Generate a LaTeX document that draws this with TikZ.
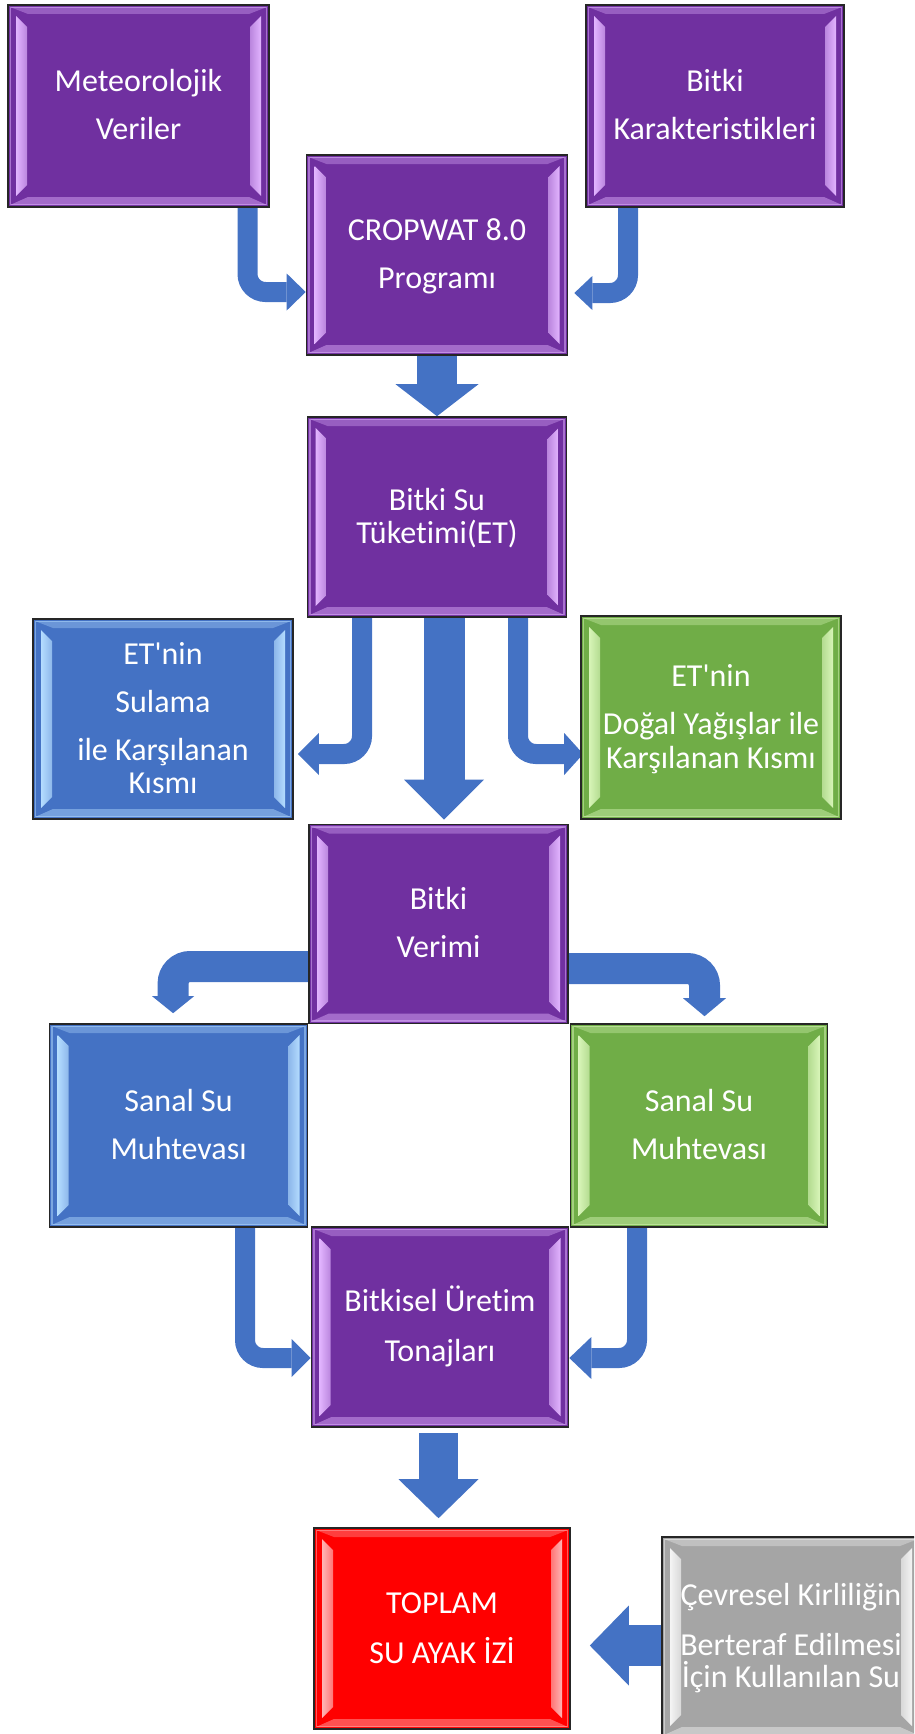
\documentclass[tikz,border=0pt]{standalone}
\usepackage{fontspec}
\setmainfont{Carlito}[Ligatures=NoCommon]
\usetikzlibrary{backgrounds}
\newcommand\boxfont{\fontsize{32}{48}\selectfont}
\definecolor{pbase}{HTML}{7030A0}\definecolor{plight}{HTML}{E2B4FF}
\definecolor{bbase}{HTML}{4472C4}\definecolor{blight}{HTML}{B4DCFF}
\definecolor{gbase}{HTML}{70AD47}\definecolor{glight}{HTML}{D8F5B8}
\definecolor{rbase}{HTML}{FF0000}\definecolor{rlight}{HTML}{FFB4B4}
\definecolor{ybase}{HTML}{A5A5A5}\definecolor{ylight}{HTML}{F4F4F4}
\definecolor{ablue}{HTML}{4472C4}
\colorlet{bvB}{pbase}\colorlet{bvL}{plight}
\tikzset{
  bev/.style={rectangle, draw=black!85, line width=1.6pt,
    text=white, inner sep=0pt, align=center, font=\boxfont,
    path picture={
      \coordinate (pNW) at (path picture bounding box.north west);
      \coordinate (pNE) at (path picture bounding box.north east);
      \coordinate (pSW) at (path picture bounding box.south west);
      \coordinate (pSE) at (path picture bounding box.south east);
      \fill[bvL, opacity=0.35] ([shift={(2,2)}]pNW) -- ([shift={(-2,2)}]pNE)
        -- ([shift={(-20,9)}]pNE) -- ([shift={(20,9)}]pNW) -- cycle;
      \fill[bvL, opacity=0.45] ([shift={(2,-2)}]pSW) -- ([shift={(-2,-2)}]pSE)
        -- ([shift={(-20,-10)}]pSE) -- ([shift={(20,-10)}]pSW) -- cycle;
      \shade[left color=bvL, right color=bvL!65!bvB]
        ([shift={(8,11)}]pNW) -- ([shift={(19,22)}]pNW)
        -- ([shift={(19,-22)}]pSW) -- ([shift={(8,-11)}]pSW) -- cycle;
      \shade[left color=bvL!65!bvB, right color=bvL]
        ([shift={(-19,22)}]pNE) -- ([shift={(-8,11)}]pNE)
        -- ([shift={(-8,-11)}]pSE) -- ([shift={(-19,-22)}]pSE) -- cycle;
      \draw[bvL, opacity=0.5, line width=1.5pt]
        ([shift={(2.5,2.5)}]pNW) rectangle ([shift={(-2.5,-2.5)}]pSE);
    }},
  purplebox/.style={bev, fill=pbase, /utils/exec={\colorlet{bvB}{pbase}\colorlet{bvL}{plight}}},
  bluebox/.style={bev, fill=bbase, /utils/exec={\colorlet{bvB}{bbase}\colorlet{bvL}{blight}}},
  greenbox/.style={bev, fill=gbase, /utils/exec={\colorlet{bvB}{gbase}\colorlet{bvL}{glight}}},
  redbox/.style={bev, fill=rbase, /utils/exec={\colorlet{bvB}{rbase}\colorlet{bvL}{rlight}}},
  graybox/.style={bev, fill=ybase, /utils/exec={\colorlet{bvB}{ybase}\colorlet{bvL}{ylight}}},
  shafta/.style={ablue, line width=20pt, rounded corners=18pt},
  shaftb/.style={ablue, line width=31pt, rounded corners=17pt},
  headfill/.style={fill=ablue}
}
\begin{document}
\begin{tikzpicture}[x=1pt,y=-1pt]
\useasboundingbox (0,0) rectangle (914,1734);
\clip (0,0) rectangle (914,1734);

\node[purplebox, minimum width=261pt, minimum height=202pt] (met) at (138.5,106)
  {\strut Meteorolojik\\\strut Veriler};
\node[purplebox, minimum width=258pt, minimum height=202pt] (kar) at (715,106)
  {\strut Bitki\\\strut Karakteristikleri};
\node[purplebox, minimum width=261pt, minimum height=200pt] (crop) at (437,255)
  {\strut CROPWAT 8.0\\\strut Program\i};
\node[purplebox, minimum width=259pt, minimum height=200pt] (etb) at (437,517)
  {\strut Bitki Su\\[-15pt]\strut Tüketimi(ET)};
\node[bluebox, minimum width=260pt, minimum height=200pt] (sul) at (163,719)
  {\strut ET\textquotesingle nin\\\strut Sulama\\\strut ile Karşılanan\\[-15pt]\strut Kısmı};
\node[greenbox, minimum width=260pt, minimum height=203pt] (dog) at (711,717.5)
  {\strut ET\textquotesingle nin\\\strut Doğal Yağışlar ile\\[-14pt]\strut Karşılanan Kısmı};
\node[purplebox, minimum width=259pt, minimum height=199pt] (ver) at (438.5,924)
  {\strut Bitki\\\strut Verimi};
\node[bluebox, minimum width=258pt, minimum height=203pt] (sanb) at (178.6,1125.5)
  {\strut Sanal Su\\\strut Muhtevası};
\node[greenbox, minimum width=257pt, minimum height=203pt] (sang) at (699,1125.5)
  {\strut Sanal Su\\\strut Muhtevası};
\node[purplebox, minimum width=257pt, minimum height=200pt] (bitu) at (440,1327)
  {\strut Bitkisel Üretim\\[2pt]\strut Tonajları};
\node[redbox, minimum width=256pt, minimum height=201pt] (top) at (442,1628.5)
  {\strut TOPLAM\\[2pt]\strut SU AYAK İZİ};
\node[graybox, minimum width=258pt, minimum height=200pt] (cev) at (791,1637)
  {\strut Çevresel Kirliliğin\\[2pt]\strut Berteraf Edilmesi\\[-16pt]\strut İçin Kullanılan Su};

\begin{scope}[on background layer]
  % straight block arrows
  \coordinate (t1) at (etb.north);
  \draw[ablue, line width=40pt] (crop.south) -- ([yshift=32pt]t1);
  \fill[headfill] (t1) -- ++(-41.5,-32) -- ++(83,0) -- cycle;

  \coordinate (t2) at ([xshift=5.5pt,yshift=4pt]ver.north);
  \draw[ablue, line width=41pt] ([xshift=7pt]etb.south) -- ([yshift=40pt]t2);
  \fill[headfill] (t2) -- ++(-40,-40) -- ++(80,0) -- cycle;

  \coordinate (t3) at ([xshift=-3.5pt,yshift=9pt]top.north);
  \draw[ablue, line width=39pt] ([xshift=-1.5pt,yshift=-5pt]bitu.south) -- ([yshift=39pt]t3);
  \fill[headfill] (t3) -- ++(-40,-39) -- ++(80,0) -- cycle;

  \coordinate (t4) at ([xshift=19pt,yshift=-17pt]top.east);
  \draw[ablue, line width=41pt] ([yshift=-8.5pt]cev.west) -- ([xshift=39pt]t4);
  \fill[headfill] (t4) -- ++(39,-40) -- ++(0,80) -- cycle;

  % bent arrows
  \coordinate (tA) at ([yshift=-37pt]crop.west);
  \draw[shafta] ([xshift=109pt]met.south) |- ([xshift=-19pt]tA);
  \fill[headfill] (tA) -- ++(-19,-18.5) -- ++(0,37) -- cycle;

  \coordinate (tB) at ([xshift=6pt,yshift=-38pt]crop.east);
  \draw[shafta] ([xshift=-87pt]kar.south) |- ([xshift=18pt]tB);
  \fill[headfill] (tB) -- ++(18,-17) -- ++(0,34) -- cycle;

  \coordinate (tC) at ([xshift=4pt,yshift=-35pt]sul.east);
  \draw[shafta] ([xshift=-75pt]etb.south) |- ([xshift=21pt]tC);
  \fill[headfill] (tC) -- ++(21,-21) -- ++(0,42) -- cycle;

  \coordinate (tD) at ([xshift=3pt,yshift=-36.5pt]dog.west);
  \draw[shafta] ([xshift=81pt]etb.south) |- ([xshift=-19pt]tD);
  \fill[headfill] (tD) -- ++(-19,-21) -- ++(0,42) -- cycle;

  \coordinate (tE) at ([xshift=-5.5pt,yshift=10pt]sanb.north);
  \draw[shaftb] ([yshift=-42.5pt]ver.west) -| ([yshift=17pt]tE);
  \fill[headfill] (tE) -- ++(-21,-17) -- ++(42,0) -- cycle;

  \coordinate (tF) at ([xshift=5.5pt,yshift=7pt]sang.north);
  \draw[shaftb] ([yshift=-44.5pt]ver.east) -| ([yshift=18pt]tF);
  \fill[headfill] (tF) -- ++(-21.5,-18) -- ++(43,0) -- cycle;

  \coordinate (tG) at ([yshift=-31pt]bitu.west);
  \draw[shafta] ([xshift=66.4pt]sanb.south) |- ([xshift=-19pt]tG);
  \fill[headfill] (tG) -- ++(-19,-19) -- ++(0,38) -- cycle;

  \coordinate (tH) at ([yshift=-31pt]bitu.east);
  \draw[shafta] ([xshift=-62pt]sang.south) |- ([xshift=22pt]tH);
  \fill[headfill] (tH) -- ++(22,-21) -- ++(0,42) -- cycle;
\end{scope}
\end{tikzpicture}
\end{document}
